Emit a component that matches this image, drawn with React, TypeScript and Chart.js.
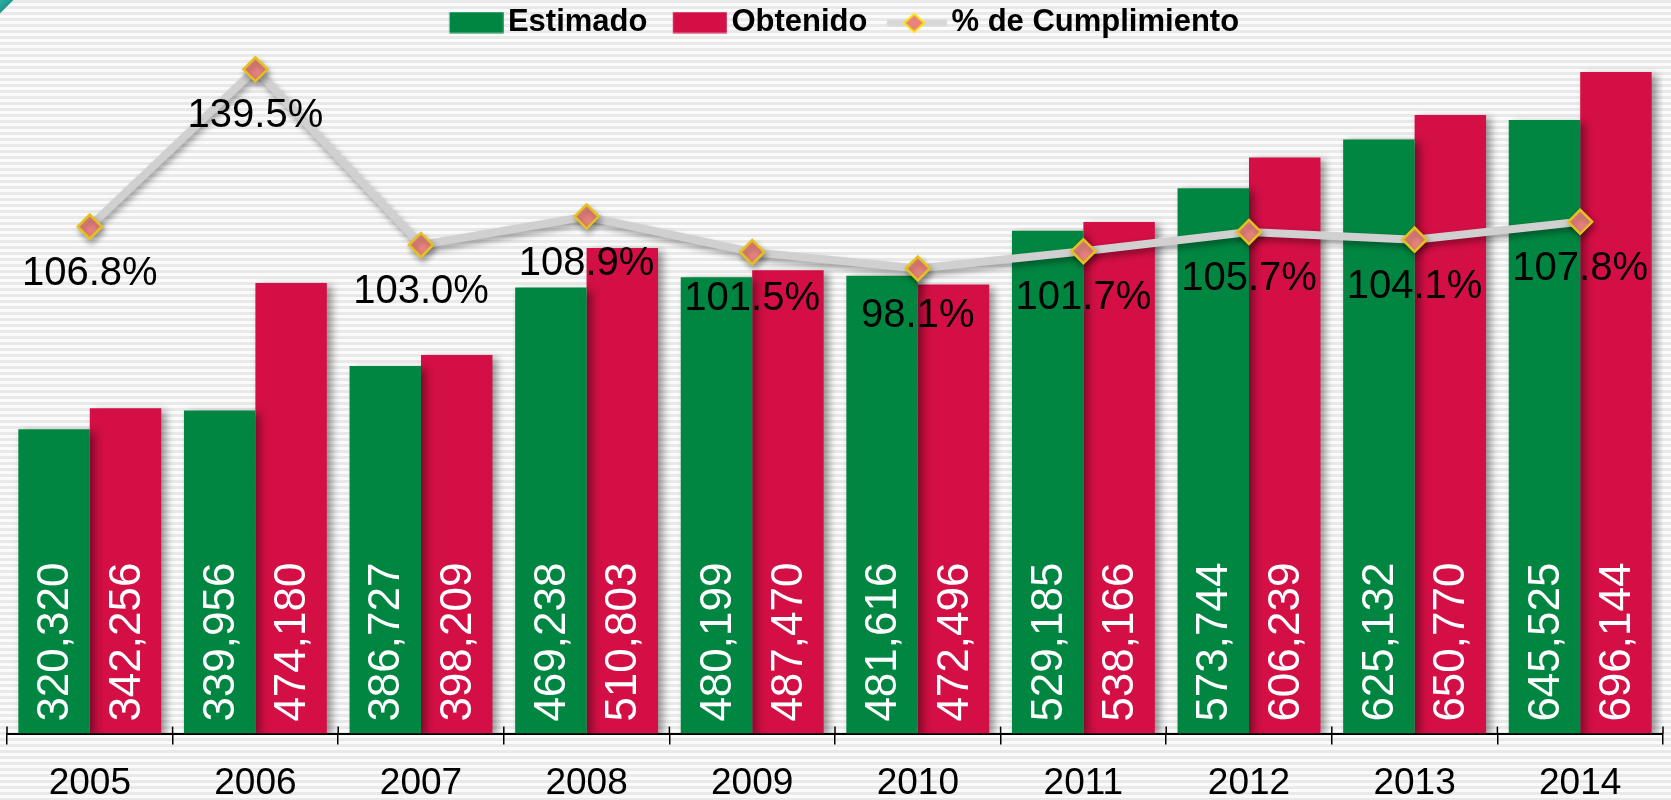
import { useEffect, useRef } from 'react';
import { Chart, registerables } from 'chart.js';

Chart.register(...registerables);

const years = ['2005', '2006', '2007', '2008', '2009', '2010', '2011', '2012', '2013', '2014'];
const estimado = [320320, 339956, 386727, 469238, 480199, 481616, 529185, 573744, 625132, 645525];
const obtenido = [342256, 474180, 398209, 510803, 487470, 472496, 538166, 606239, 650770, 696144];
const cumplimiento = [106.8, 139.5, 103.0, 108.9, 101.5, 98.1, 101.7, 105.7, 104.1, 107.8];
const seriesNames = ['Estimado', 'Obtenido', '% de Cumplimiento'];

const GREEN = '#008641';
const RED = '#D30F45';
const LINE = '#D0D0D0';
const MARK_FILL = '#E8837F';
const MARK_BORDER = '#E4C21E';
const FONT = '"Liberation Sans", Arial, sans-serif';

function makeSwatch(kind: 'box' | 'line', color: string): HTMLCanvasElement {
  const c = document.createElement('canvas');
  c.width = 84;
  c.height = 22;
  const g = c.getContext('2d')!;
  const x0 = 29.75;
  const w = 54;
  if (kind === 'box') {
    g.fillStyle = color;
    g.fillRect(x0, 0.5, w, 21);
  } else {
    g.strokeStyle = '#D8D8D8';
    g.lineWidth = 7;
    g.lineCap = 'round';
    g.beginPath();
    g.moveTo(27, 11.5);
    g.lineTo(81, 11.5);
    g.stroke();
    const cx = 51;
    const cy = 11.5;
    g.beginPath();
    g.moveTo(cx, cy - 9);
    g.lineTo(cx + 10, cy);
    g.lineTo(cx, cy + 9);
    g.lineTo(cx - 10, cy);
    g.closePath();
    g.fillStyle = MARK_FILL;
    g.fill();
    g.strokeStyle = '#FFE400';
    g.lineWidth = 2;
    g.stroke();
  }
  return c;
}

const shadowPlugin = {
  id: 'shadowPlugin',
  beforeDatasetDraw(chart: any, args: any) {
    const ctx = chart.ctx;
    ctx.save();
    if (args.index === 2) {
      ctx.shadowColor = 'rgba(0,0,0,0.35)';
      ctx.shadowBlur = 6;
      ctx.shadowOffsetX = 2;
      ctx.shadowOffsetY = 4;
    } else {
      ctx.shadowColor = 'rgba(0,0,0,0.4)';
      ctx.shadowBlur = 8;
      ctx.shadowOffsetX = 5;
      ctx.shadowOffsetY = 3;
    }
  },
  afterDatasetDraw(chart: any) {
    chart.ctx.restore();
  },
};

const labelsPlugin = {
  id: 'labelsPlugin',
  afterDatasetsDraw(chart: any) {
    const ctx = chart.ctx;
    [0, 1].forEach((di) => {
      const meta = chart.getDatasetMeta(di);
      const values = chart.data.datasets[di].data as number[];
      meta.data.forEach((el: any, i: number) => {
        ctx.save();
        ctx.translate(el.x + 2, el.base - 12);
        ctx.rotate(-Math.PI / 2);
        ctx.font = '44px ' + FONT;
        ctx.fillStyle = '#ffffff';
        ctx.textAlign = 'left';
        ctx.textBaseline = 'middle';
        ctx.fillText(values[i].toLocaleString('en-US'), 0, 0);
        ctx.restore();
      });
    });
    const lm = chart.getDatasetMeta(2);
    const pv = chart.data.datasets[2].data as number[];
    lm.data.forEach((pt: any, i: number) => {
      ctx.save();
      ctx.font = '40px ' + FONT;
      ctx.fillStyle = '#000000';
      ctx.textAlign = 'center';
      ctx.textBaseline = 'middle';
      ctx.fillText(pv[i].toFixed(1) + '%', pt.x, pt.y + 47);
      ctx.restore();
    });
  },
  afterDraw(chart: any) {
    const ctx = chart.ctx;
    const xs = chart.scales.x;
    const n = years.length;
    const half = (xs.getPixelForValue(1) - xs.getPixelForValue(0)) / 2;
    const bottom = chart.chartArea.bottom;
    ctx.save();
    ctx.strokeStyle = '#000';
    ctx.lineWidth = 1.5;
    for (let i = 0; i <= n; i++) {
      const x = i < n ? xs.getPixelForValue(i) - half : xs.getPixelForValue(n - 1) + half;
      ctx.beginPath();
      ctx.moveTo(x, bottom - 7);
      ctx.lineTo(x, bottom);
      ctx.stroke();
    }
    ctx.restore();
  },
};

export default function App() {
  const ref = useRef<HTMLCanvasElement | null>(null);

  useEffect(() => {
    if (!ref.current) return;
    Chart.defaults.font.family = FONT;
    const swatches = [makeSwatch('box', GREEN), makeSwatch('box', RED), makeSwatch('line', LINE)];
    const chart = new Chart(ref.current, {
      type: 'bar',
      data: {
        labels: years,
        datasets: [
          {
            label: seriesNames[0],
            data: estimado,
            backgroundColor: GREEN,
            borderWidth: 0,
            categoryPercentage: 0.863,
            barPercentage: 1,
            yAxisID: 'y',
            order: 1,
          },
          {
            label: seriesNames[1],
            data: obtenido,
            backgroundColor: RED,
            borderWidth: 0,
            categoryPercentage: 0.863,
            barPercentage: 1,
            yAxisID: 'y',
            order: 1,
          },
          {
            type: 'line',
            label: seriesNames[2],
            data: cumplimiento,
            yAxisID: 'y1',
            borderColor: LINE,
            borderWidth: 8,
            tension: 0,
            pointStyle: 'rectRot',
            pointRadius: 12,
            pointBackgroundColor: MARK_FILL,
            pointBorderColor: MARK_BORDER,
            pointBorderWidth: 2.5,
            clip: false,
            order: 0,
          } as any,
        ],
      },
      options: {
        responsive: false,
        animation: false,
        devicePixelRatio: 1,
        layout: { autoPadding: false, padding: { left: 7, right: 8, top: 0, bottom: -23 } },
        plugins: {
          tooltip: { enabled: false },
          legend: {
            display: true,
            position: 'top',
            labels: {
              usePointStyle: true,
              pointStyleWidth: 61.5,
              padding: 7,
              color: '#000',
              font: { family: FONT, size: 31, weight: 'bold' },
              generateLabels: () =>
                seriesNames.map((name, i) => ({
                  text: name,
                  fillStyle: 'transparent',
                  strokeStyle: 'transparent',
                  lineWidth: 0,
                  pointStyle: swatches[i],
                  datasetIndex: i,
                  hidden: false,
                  fontColor: '#000',
                })) as any,
            },
          },
        },
        scales: {
          x: {
            offset: true,
            grid: {
              display: true,
              offset: true,
              drawOnChartArea: false,
              drawTicks: true,
              tickLength: 11,
              color: '#000',
              lineWidth: 1.5,
            },
            border: { display: true, color: '#000', width: 2 },
            ticks: { color: '#000', font: { family: FONT, size: 37 }, padding: 17 },
          },
          y: { display: false, min: 0, max: 721346 },
          y1: { display: false, position: 'right', min: 1.43, max: 143.93 },
        },
      } as any,
      plugins: [shadowPlugin, labelsPlugin],
    });
    return () => chart.destroy();
  }, []);

  return (
    <div
      style={{
        position: 'fixed',
        left: 0,
        top: 0,
        width: 1671,
        height: 800,
        overflow: 'hidden',
        background:
          'repeating-linear-gradient(180deg, #e9e9e9 0px, #e9e9e9 3px, #fbfbfb 3px, #fbfbfb 6px)',
      }}
    >
      <div
        style={{
          position: 'absolute',
          left: 0,
          top: 0,
          width: 24,
          height: 24,
          background: 'linear-gradient(135deg, #2fae9e 0px, #1f9a8c 9px, rgba(0,0,0,0) 10px)',
        }}
      />
      <canvas ref={ref} width={1671} height={800} style={{ display: 'block', position: 'relative' }} />
    </div>
  );
}
